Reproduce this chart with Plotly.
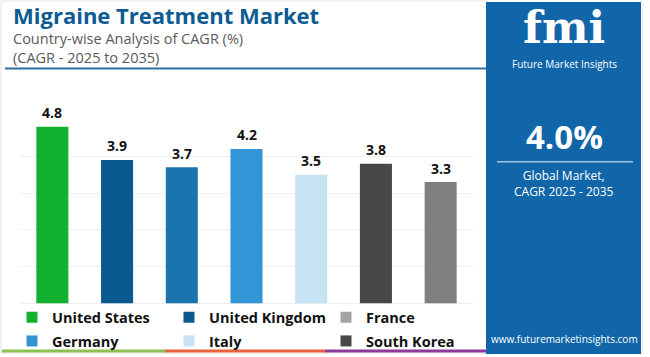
import plotly.graph_objects as go

W, H = 650, 357

# ---- data ----
bar_categories = ["United States", "United Kingdom", "France", "Germany", "Italy", "South Korea", "Japan"]
bar_values = [4.8, 3.9, 3.7, 4.2, 3.5, 3.8, 3.3]
bar_colors = ["#11b02f", "#0a5a90", "#1b74ad", "#3394d6", "#c6e2f3", "#474747", "#7f7f7f"]

legend_names = ["United States", "United Kingdom", "France", "Germany", "Italy", "South Korea"]
legend_colors = ["#11b02f", "#0a5a90", "#a3a3a3", "#3394d6", "#c6e2f3", "#474747"]
legend_rows = ["legend", "legend", "legend", "legend2", "legend2", "legend2"]

y_ticks = [0, 1, 2, 3, 4, 5]

FONT = "Open Sans"
BLUE = "#1066a8"

def px(x):
    return x / W

def py(y):
    return (H - y) / H

fig = go.Figure()
fig.add_trace(go.Bar(
    x=bar_categories, y=bar_values,
    marker=dict(color=bar_colors, line=dict(width=0)),
    showlegend=False, hoverinfo="x+y",
))
for name, col, lg in zip(legend_names, legend_colors, legend_rows):
    fig.add_trace(go.Scatter(
        x=[None], y=[None], mode="markers", name=name, legend=lg,
        marker=dict(symbol="square", size=11, color=col),
    ))

annotations = []
for c, v in zip(bar_categories, bar_values):
    annotations.append(dict(x=c, y=v, xref="x", yref="y", text=f"<b>{v:.1f}</b>",
                            showarrow=False, yshift=14, font=dict(family=FONT, size=14, color="#111111")))

# titles
annotations += [
    dict(x=px(11), y=py(15.5), xref="paper", yref="paper", xanchor="left", yanchor="middle",
         text="<b>Migraine Treatment Market</b>", showarrow=False,
         font=dict(family=FONT, size=22, color="#0c5b93")),
    dict(x=px(11), y=py(48.5), xref="paper", yref="paper", xanchor="left", yanchor="middle",
         text="Country-wise Analysis of CAGR (%)<br>(CAGR - 2025 to 2035)", showarrow=False,
         align="left", font=dict(family=FONT, size=14.5, color="#5a5a5a")),
]

# right panel texts
cx = px(564)
annotations += [
    dict(x=cx, y=py(55), xref="paper", yref="paper", xanchor="center", yanchor="bottom",
         text="<b>fmi</b>", showarrow=False,
         font=dict(family="DejaVu Serif", size=44, color="white")),
    dict(x=cx, y=py(55), xref="paper", yref="paper", xanchor="center", yanchor="top",
         text="Future Market Insights", showarrow=False,
         font=dict(family=FONT, size=10, color="white")),
    dict(x=cx, y=py(138), xref="paper", yref="paper", xanchor="center", yanchor="middle",
         text="<b>4.0%</b>", showarrow=False,
         font=dict(family=FONT, size=33, color="white")),
    dict(x=cx, y=py(185.5), xref="paper", yref="paper", xanchor="center", yanchor="middle",
         text="Global Market,<br>CAGR 2025 - 2035", showarrow=False,
         font=dict(family=FONT, size=12, color="white")),
    dict(x=cx, y=py(342), xref="paper", yref="paper", xanchor="center", yanchor="middle",
         text="www.futuremarketinsights.com", showarrow=False,
         font=dict(family=FONT, size=10, color="white")),
]

shapes = [
    # outer light border of white card
    dict(type="rect", xref="paper", yref="paper", x0=px(1), x1=px(487), y0=py(356), y1=py(1),
         line=dict(color="#e4e4e4", width=1), fillcolor="rgba(0,0,0,0)", layer="below"),
    # blue panel
    dict(type="rect", xref="paper", yref="paper", x0=px(486), x1=px(641), y0=0, y1=py(2),
         line=dict(width=0), fillcolor=BLUE, layer="below"),
    dict(type="line", xref="paper", yref="paper", x0=px(642), x1=px(642), y0=0, y1=py(2),
         line=dict(color="#e4e4e4", width=1)),
    # separator in panel
    dict(type="line", xref="paper", yref="paper", x0=px(497), x1=px(633), y0=py(163), y1=py(163),
         line=dict(color="#9ec4e4", width=1.5)),
    # title underline
    dict(type="line", xref="paper", yref="paper", x0=px(5), x1=px(486), y0=py(69), y1=py(69),
         line=dict(color="#2f6f9f", width=2)),
    # bottom colour strip
    dict(type="line", xref="paper", yref="paper", x0=px(2), x1=px(165), y0=py(354), y1=py(354),
         line=dict(color="#8cc152", width=3)),
    dict(type="line", xref="paper", yref="paper", x0=px(165), x1=px(325), y0=py(354), y1=py(354),
         line=dict(color="#e8633b", width=3)),
    dict(type="line", xref="paper", yref="paper", x0=px(325), x1=px(486), y0=py(354), y1=py(354),
         line=dict(color="#8e3a9b", width=3)),
]

legend_common = dict(orientation="h", x=px(12), xanchor="left", yanchor="top",
                     entrywidth=112, entrywidthmode="pixels", itemwidth=30,
                     font=dict(family=FONT, size=14.5, color="#111111", weight="bold"),
                     bgcolor="rgba(0,0,0,0)", itemclick=False, itemdoubleclick=False)

fig.update_layout(
    width=W, height=H,
    margin=dict(l=0, r=0, t=0, b=0),
    paper_bgcolor="white", plot_bgcolor="white",
    bargap=0.505,
    xaxis=dict(domain=[px(20), px(473)], showticklabels=False, showgrid=False,
               zeroline=False, showline=False, ticks="", fixedrange=True),
    yaxis=dict(domain=[py(306), py(120.5)], range=[0, 5], tickvals=y_ticks,
               showticklabels=False, showgrid=True, gridcolor="#efefef", gridwidth=1,
               zeroline=True, zerolinecolor="#efefef", zerolinewidth=1, showline=False, ticks="",
               fixedrange=True),
    showlegend=True,
    legend=dict(**legend_common, y=py(304)),
    legend2=dict(**legend_common, y=py(328)),
    annotations=annotations,
    shapes=shapes,
)

fig.write_html("out.html", config={"displayModeBar": False},
               post_script="document.body.style.margin='0';document.body.style.overflow='hidden';")
